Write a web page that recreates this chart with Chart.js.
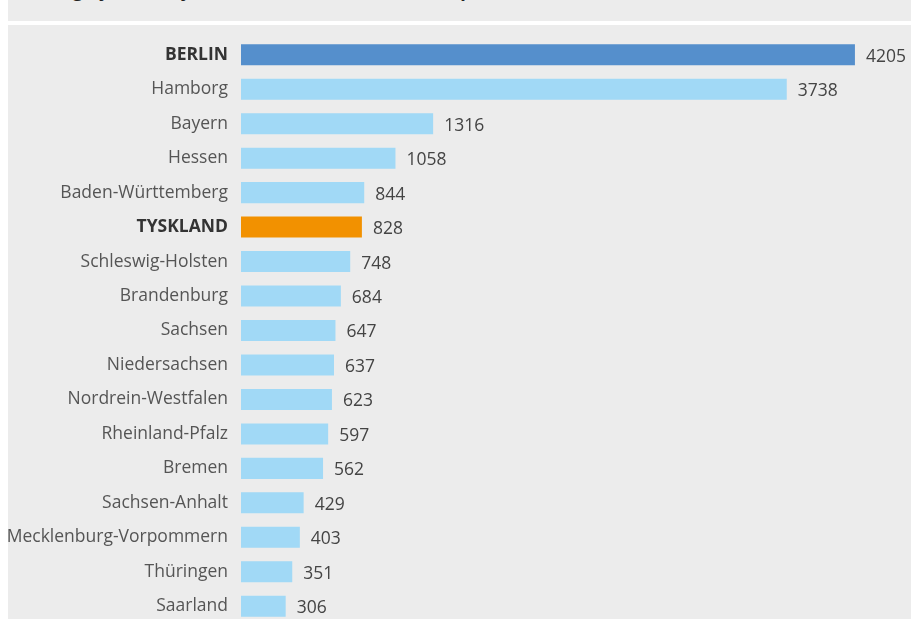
<!DOCTYPE html>
<html>
<head>
<meta charset="utf-8">
<script src="https://cdn.jsdelivr.net/npm/chart.js@4/dist/chart.umd.min.js"></script>
<style>
  body { margin: 0; background: #fff; width: 911px; height: 619px; overflow: hidden; position: relative; font-family: 'Open Sans', sans-serif; }
  .head { position: absolute; left: 8px; top: 0; width: 903px; height: 21px; background: #ececec; overflow: hidden; }
  .head h2 { position: absolute; left: 12px; top: -19px; margin: 0; font-size: 18px; line-height: 18px; font-weight: 700; color: #222; white-space: nowrap; }
  .panel { position: absolute; left: 8px; top: 25px; width: 903px; height: 594px; background: #ececec; overflow: hidden; }
  .panel canvas { position: absolute; left: 0; top: -11px; }
</style>
</head>
<body>
<div class="head"><h2>Leie og bydeler i Tyskland, husstander som leier, per 1000</h2></div>
<div class="panel"><canvas id="chart" width="903" height="633"></canvas></div>
<script>
const categories = ['BERLIN', 'Hamborg', 'Bayern', 'Hessen', 'Baden-Württemberg', 'TYSKLAND',
  'Schleswig-Holsten', 'Brandenburg', 'Sachsen', 'Niedersachsen', 'Nordrein-Westfalen',
  'Rheinland-Pfalz', 'Bremen', 'Sachsen-Anhalt', 'Mecklenburg-Vorpommern', 'Thüringen', 'Saarland'];
const values = [4205, 3738, 1316, 1058, 844, 828, 748, 684, 647, 637, 623, 597, 562, 429, 403, 351, 306];
const highlight = ['BERLIN', 'TYSKLAND'];

const barColors = categories.map(c => c === 'BERLIN' ? '#558fcc' : c === 'TYSKLAND' ? '#f29100' : '#a1d9f6');

// value labels to the right of each bar
const valueLabels = {
  id: 'valueLabels',
  afterDatasetsDraw(chart) {
    const ctx = chart.ctx;
    const meta = chart.getDatasetMeta(0);
    ctx.save();
    ctx.font = '17.5px "Open Sans", sans-serif';
    ctx.fillStyle = '#444';
    ctx.textAlign = 'left';
    ctx.textBaseline = 'middle';
    meta.data.forEach((bar, i) => {
      ctx.fillText(values[i], bar.x + 11, bar.y + 2);
    });
    ctx.restore();
  }
};

new Chart(document.getElementById('chart'), {
  type: 'bar',
  data: {
    labels: categories,
    datasets: [{
      data: values,
      backgroundColor: barColors,
      barPercentage: 0.61,
      categoryPercentage: 1
    }]
  },
  options: {
    indexAxis: 'y',
    responsive: false,
    animation: false,
    layout: { padding: { top: 0, bottom: 0, left: 0, right: 13 } },
    plugins: { legend: { display: false }, tooltip: { enabled: false } },
    scales: {
      x: { display: false, min: 0, max: 4500 },
      y: {
        afterFit: (scale) => { scale.width = 233; },
        grid: { display: false, drawTicks: false },
        border: { display: false },
        ticks: {
          padding: 13,
          color: (c) => highlight.includes(categories[c.index]) ? '#333' : '#555',
          font: (c) => ({
            family: '"Open Sans", sans-serif',
            size: 17.5,
            weight: highlight.includes(categories[c.index]) ? 'bold' : 'normal'
          })
        }
      }
    }
  },
  plugins: [valueLabels]
});
</script>
</body>
</html>
